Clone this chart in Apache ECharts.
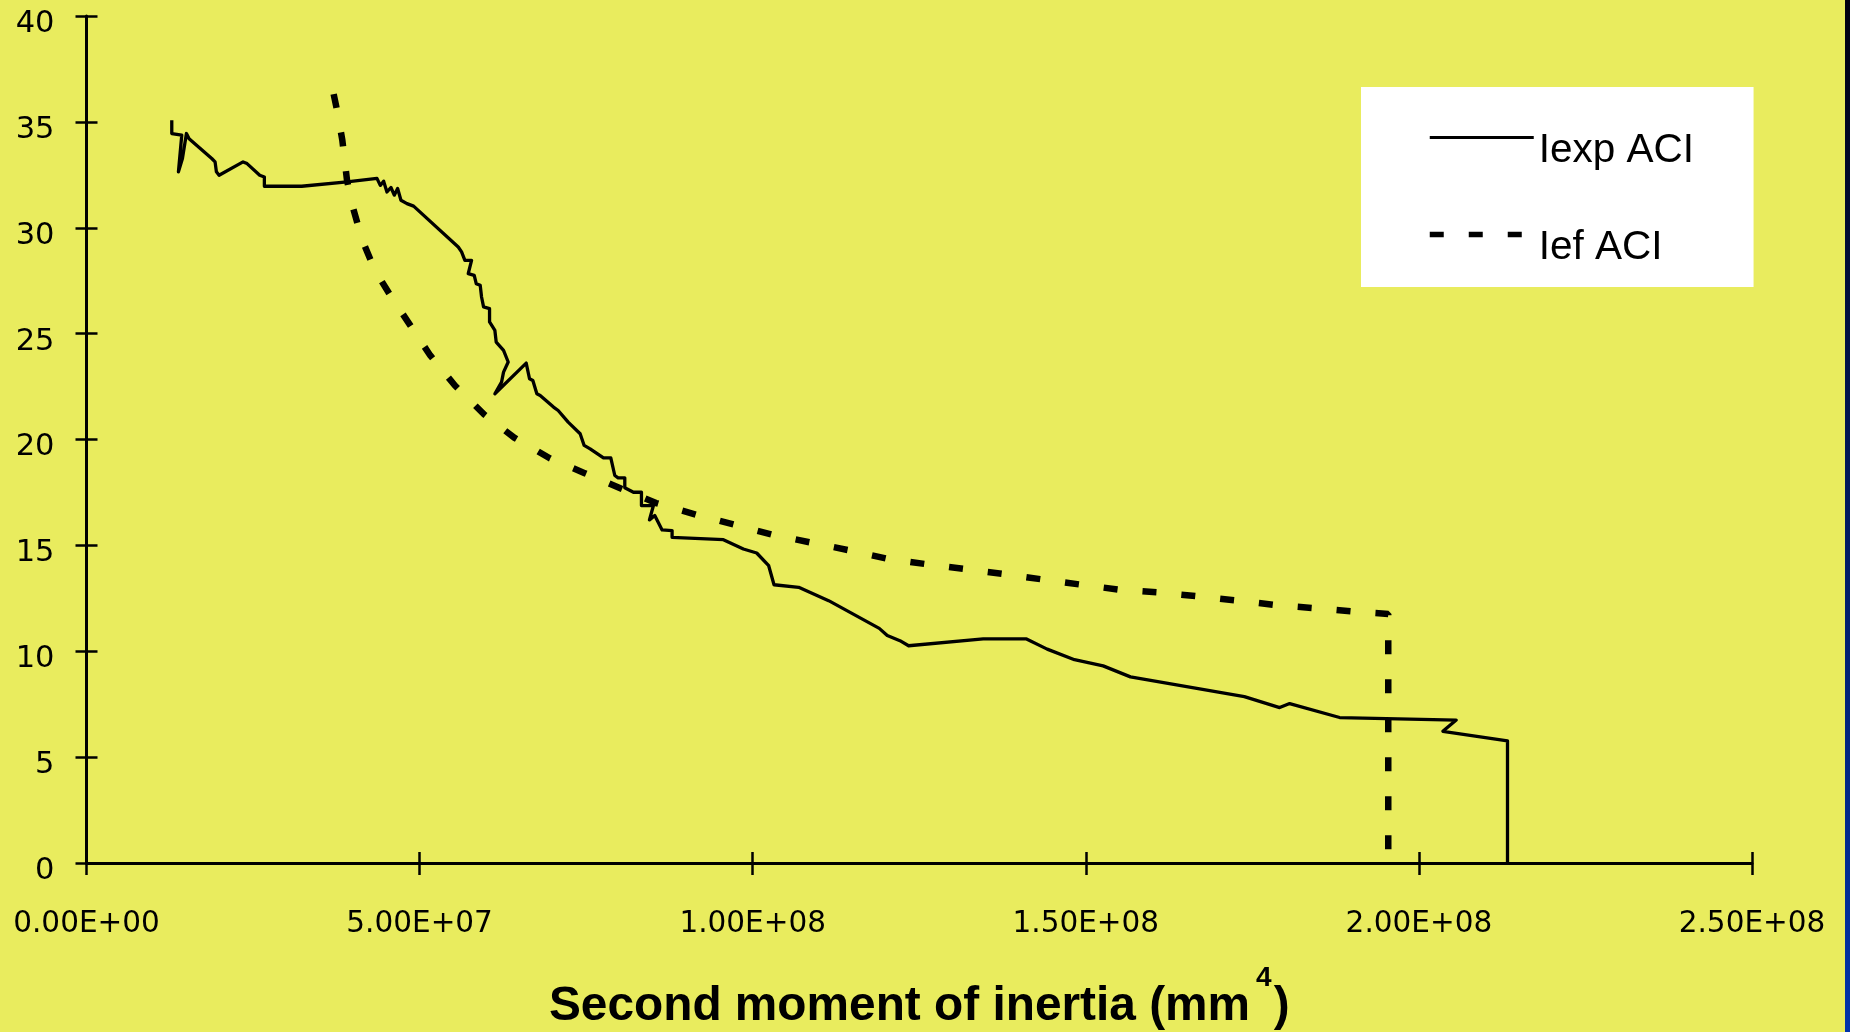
<!DOCTYPE html>
<html>
<head>
<meta charset="utf-8">
<script src="https://cdn.jsdelivr.net/npm/echarts@6/dist/echarts.min.js"></script>
<style>
html,body{margin:0;padding:0;background:#E9EC5E;overflow:hidden;}
#c{width:1850px;height:1032px;}
</style>
</head>
<body>
<div id="c"></div>
<script>
// x values in units of 1e6 mm^4, y values in axis units
const seriesNames = ['Iexp ACI', 'Ief ACI'];
const xTickLabels = ['0.00E+00', '5.00E+07', '1.00E+08', '1.50E+08', '2.00E+08', '2.50E+08'];

const iexpX = [12.8, 12.8, 14.3, 13.8, 14.4, 15.0, 15.4, 18.8, 19.3, 19.5, 19.9, 23.5, 24.1, 26.0, 26.7, 26.7, 32.3, 39.1, 43.6, 44.1, 44.6, 45.1, 45.7, 46.2, 46.7, 47.2, 48.1, 49.1, 55.8, 56.3, 56.8, 57.8, 57.3, 58.2, 58.5, 59.1, 59.3, 59.6, 60.5, 60.5, 61.3, 61.5, 62.6, 63.3, 62.6, 62.3, 61.3, 66.0, 66.5, 67.0, 67.6, 68.1, 70.1, 70.8, 72.3, 74.1, 74.7, 75.6, 77.6, 78.7, 79.3, 79.8, 80.8, 80.8, 82.1, 83.3, 83.3, 85.1, 84.5, 85.3, 86.4, 87.9, 87.9, 95.6, 98.6, 100.6, 102.4, 103.2, 106.9, 111.4, 119.0, 120.2, 122.1, 123.4, 134.6, 141.1, 144.2, 148.3, 152.6, 156.7, 173.8, 179.1, 180.6, 188.1, 205.6, 203.6, 213.3, 213.3];
const iexpY = [35.08, 34.45, 34.37, 32.64, 33.27, 34.45, 34.20, 33.27, 33.11, 32.64, 32.48, 33.11, 33.03, 32.48, 32.40, 31.96, 31.96, 32.17, 32.33, 32.00, 32.20, 31.69, 31.90, 31.54, 31.85, 31.30, 31.14, 31.02, 29.09, 28.86, 28.46, 28.46, 27.83, 27.75, 27.36, 27.28, 26.73, 26.26, 26.18, 25.55, 25.15, 24.60, 24.21, 23.66, 23.18, 22.71, 22.16, 23.61, 22.87, 22.79, 22.16, 22.08, 21.53, 21.37, 20.82, 20.27, 19.72, 19.56, 19.13, 19.13, 18.30, 18.19, 18.19, 17.72, 17.51, 17.51, 16.88, 16.88, 16.20, 16.41, 15.73, 15.70, 15.38, 15.27, 14.83, 14.64, 14.04, 13.14, 13.02, 12.39, 11.08, 10.74, 10.50, 10.26, 10.58, 10.58, 10.10, 9.60, 9.31, 8.79, 7.86, 7.34, 7.53, 6.87, 6.75, 6.22, 5.77, 0];

const iefX = [37.1, 37.6, 38.4, 39.1, 39.9, 41.4, 43.3, 45.6, 48.6, 51.6, 55.3, 59.7, 64.2, 69.6, 74.7, 80.3, 85.5, 91.5, 97.2, 102.9, 108.5, 114.3, 120.2, 125.9, 132.0, 137.6, 143.3, 149.4, 155.0, 161.2, 166.7, 172.9, 178.6, 184.6, 190.3, 195.4, 195.4];
const iefY = [36.31, 35.56, 34.14, 32.25, 31.06, 29.41, 27.99, 26.81, 25.39, 23.97, 22.55, 21.18, 20.09, 19.10, 18.42, 17.67, 17.00, 16.45, 15.98, 15.51, 15.15, 14.78, 14.37, 14.12, 13.88, 13.65, 13.40, 13.14, 12.91, 12.77, 12.60, 12.39, 12.18, 12.03, 11.87, 11.76, 0];

const pair = (xs, ys) => xs.map((x, i) => [x, ys[i]]);

const FONT = 'Liberation Sans';
const TICKFONT = 'DejaVu Sans';
const chart = echarts.init(document.getElementById('c'), null, {renderer: 'canvas'});

const axisBase = {type: 'value', splitLine: {show: false}};
const solidStyle = {color: '#000', width: 3.3, join: 'round'};
const dashStyle = {color: '#000', width: 6.5, type: [14, 25], cap: 'butt'};

chart.setOption({
  animation: false,
  backgroundColor: '#E9EC5E',
  grid: {left: 86.5, right: 98, top: 16, bottom: 169, containLabel: false, outerBoundsMode: 'none'},
  legend: {
    orient: 'vertical',
    left: 1361, top: 87,
    backgroundColor: '#ffffff',
    borderWidth: 0,
    padding: [17, 59.5, 19, 66],
    itemWidth: 104, itemHeight: 14, itemGap: 30,
    itemStyle: {color: 'rgba(0,0,0,0)', borderWidth: 0},
    formatter: '{t|{name}}',
    textStyle: {
      color: '#000',
      rich: {t: {fontFamily: FONT, fontSize: 40.5, color: '#000', lineHeight: 40, padding: [26, 0, 0, 0]}}
    },
    data: [
      {name: seriesNames[0], lineStyle: {width: 3, type: 'solid'}},
      {name: seriesNames[1], lineStyle: {width: 5.5, type: [14, 25], cap: 'butt'}}
    ]
  },
  xAxis: [
    Object.assign({}, axisBase, {
      min: 0, max: 250, interval: 50, position: 'bottom',
      axisLine: {show: true, onZero: false, lineStyle: {color: '#000', width: 3}},
      axisTick: {show: true, inside: false, length: 12, lineStyle: {color: '#000', width: 2.5}},
      axisLabel: {margin: 46, color: '#000', fontFamily: TICKFONT, fontSize: 29.5,
        formatter: v => xTickLabels[Math.round(v / 50)]},
      name: '{a|Second moment of inertia (mm}{s|4}{a|)}',
      nameLocation: 'middle', nameGap: 101,
      nameTextStyle: {
        rich: {
          a: {fontFamily: FONT, fontWeight: 'bold', fontSize: 47.8, color: '#000', lineHeight: 86},
          s: {fontFamily: FONT, fontWeight: 'bold', fontSize: 28, color: '#000', lineHeight: 30, verticalAlign: 'top', padding: [0, 2, 0, 6]}
        }
      }
    }),
    Object.assign({}, axisBase, {
      min: 0, max: 250, interval: 50, position: 'bottom',
      axisLine: {show: false},
      axisTick: {show: true, inside: true, length: 11, lineStyle: {color: '#000', width: 2.5}},
      axisLabel: {show: false}
    })
  ],
  yAxis: [
    Object.assign({}, axisBase, {
      min: 0, max: 40, interval: 5, position: 'left',
      axisLine: {show: true, onZero: false, lineStyle: {color: '#000', width: 3}},
      axisTick: {show: true, inside: false, length: 11, lineStyle: {color: '#000', width: 2.5}},
      axisLabel: {
        margin: 32, color: '#000',
        formatter: v => '{v|' + v + '}',
        rich: {v: {fontFamily: TICKFONT, fontSize: 30.5, color: '#000', padding: [16, 0, 0, 0]}}
      }
    }),
    Object.assign({}, axisBase, {
      min: 0, max: 40, interval: 5, position: 'left',
      axisLine: {show: false},
      axisTick: {show: true, inside: true, length: 11, lineStyle: {color: '#000', width: 2.5}},
      axisLabel: {show: false}
    })
  ],
  series: [
    {
      name: seriesNames[0], type: 'line', xAxisIndex: 0, yAxisIndex: 0,
      data: pair(iexpX, iexpY),
      symbol: 'none', showSymbol: false, smooth: false,
      lineStyle: solidStyle,
      itemStyle: {color: '#000'}
    },
    {
      name: seriesNames[1], type: 'line', xAxisIndex: 0, yAxisIndex: 0,
      data: pair(iefX, iefY),
      symbol: 'none', showSymbol: false, smooth: false,
      lineStyle: dashStyle,
      itemStyle: {color: '#000'}
    }
  ],
  graphic: [
    {
      type: 'rect', left: 1845, top: 0, silent: true,
      shape: {width: 5, height: 1032},
      style: {fill: new echarts.graphic.LinearGradient(0, 0, 0, 1, [
        {offset: 0, color: '#000010'}, {offset: 0.5, color: '#001a60'}, {offset: 1, color: '#0033aa'}
      ])}
    }
  ]
});
</script>
</body>
</html>
